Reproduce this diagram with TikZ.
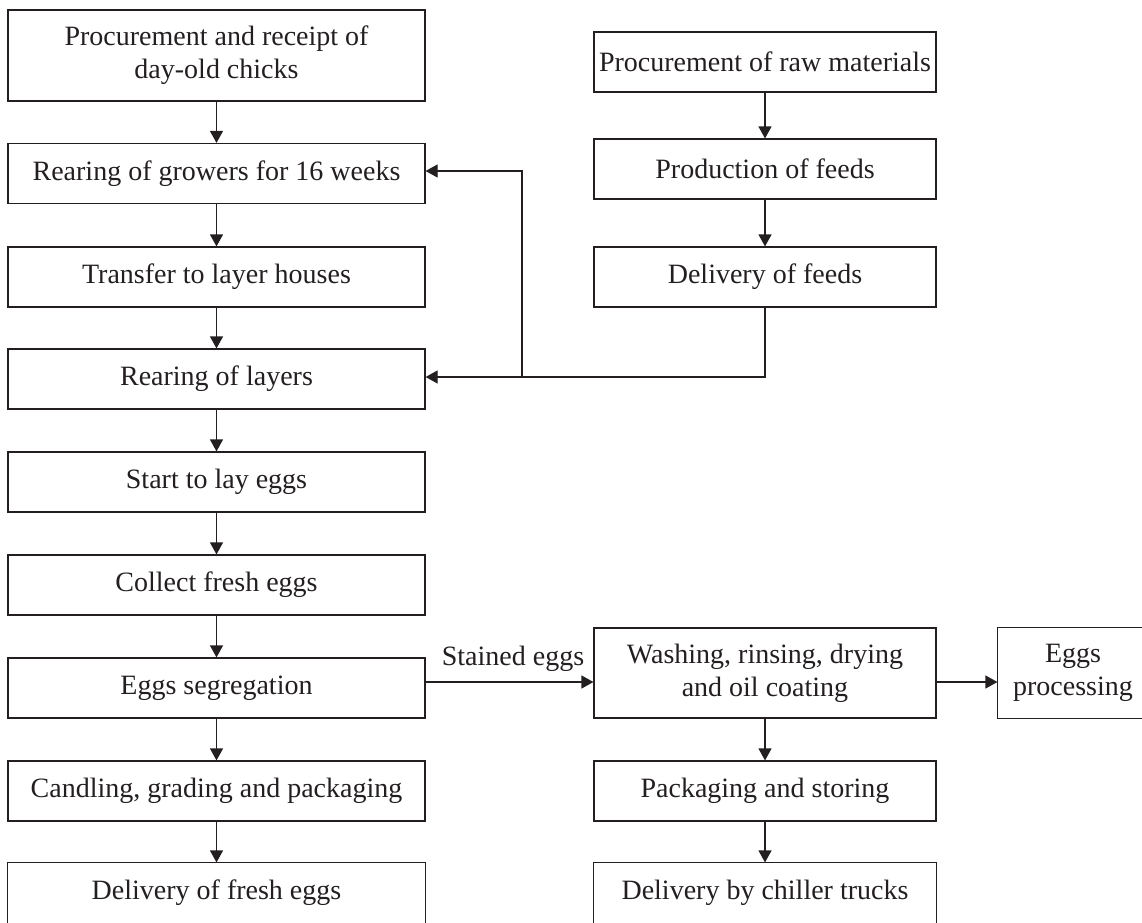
\documentclass[tikz,border=0pt]{standalone}
\usepackage{fontspec}
\setmainfont{Liberation Serif}
\usetikzlibrary{arrows.meta}
\definecolor{ink}{HTML}{231F20}
\tikzset{
  box/.style={draw=ink, line width=1.2pt, inner sep=0pt, align=center,
    font=\fontsize{28}{33}\selectfont, text=ink},
  lbox/.style={box, minimum width=417pt, minimum height=60pt},
  rbox/.style={box, minimum width=342pt, minimum height=60pt},
  arr/.style={draw=ink, line width=1.2pt, -{Triangle[width=13pt,length=12pt]}},
  ln/.style={draw=ink, line width=1.2pt}
}
\begin{document}
\begin{tikzpicture}[x=1pt,y=-1pt]
\useasboundingbox (0,0) rectangle (1142,922);
% left column
\node[lbox, minimum height=91pt] (b1) at (216.5,55.5) {Procurement and receipt of\\day-old chicks};
\node[lbox] (b2) at (216.5,173.5) {Rearing of growers for 16 weeks};
\node[lbox] (b3) at (216.5,277) {Transfer to layer houses};
\node[lbox] (b4) at (216.5,379) {Rearing of layers};
\node[lbox] (b5) at (216.5,482) {Start to lay eggs};
\node[lbox] (b6) at (216.5,585) {Collect fresh eggs};
\node[lbox] (b7) at (216.5,688) {Eggs segregation};
\node[lbox] (b8) at (216.5,791) {Candling, grading and packaging};
\node[lbox, draw=none] (b9) at (216.5,893) {Delivery of fresh eggs};
\draw[ln] ([yshift=-12pt]b9.south west) -- (b9.north west) -- (b9.north east) -- ([yshift=-12pt]b9.south east);
% right column top
\node[rbox] (r1) at (765,62) {Procurement of raw materials};
\node[rbox] (r2) at (765,169) {Production of feeds};
\node[rbox] (r3) at (765,277) {Delivery of feeds};
% right column bottom
\node[rbox, minimum height=90pt] (w) at (765,673) {Washing, rinsing, drying\\and oil coating};
\node[rbox] (p) at (765,791) {Packaging and storing};
\node[rbox, draw=none] (c) at (765,893) {Delivery by chiller trucks};
\draw[ln] ([yshift=-12pt]c.south west) -- (c.north west) -- (c.north east) -- ([yshift=-12pt]c.south east);
\node[box, draw=none, minimum width=150pt, minimum height=90pt] (e) at (1073,673) {Eggs\\processing};
\draw[ln] ([xshift=30pt]e.north east) -- (e.north west) -- (e.south west) -- ([xshift=30pt]e.south east);
% vertical arrows
\foreach \a/\b in {b1/b2,b2/b3,b3/b4,b4/b5,b5/b6,b6/b7,b7/b8,b8/b9,r1/r2,r2/r3,w/p,p/c}
  \draw[arr] (\a.south) -- (\b.north);
% feed lines
\coordinate (j) at (522,377);
\coordinate (k) at (522,171);
\draw[arr] (r3.south) |- (j) -- (b4.east |- j);
\draw[arr] (j) -- (k) -- (b2.east |- k);
% stained eggs
\coordinate (s) at (0,682);
\draw[arr] (b7.east |- s) -- (w.west |- s);
\node[font=\fontsize{28}{33}\selectfont, text=ink, anchor=base, inner sep=0pt] (lbl) at (513,665) {Stained eggs};
\draw[arr] (w.east |- s) -- (e.west |- s);
\end{tikzpicture}
\end{document}
